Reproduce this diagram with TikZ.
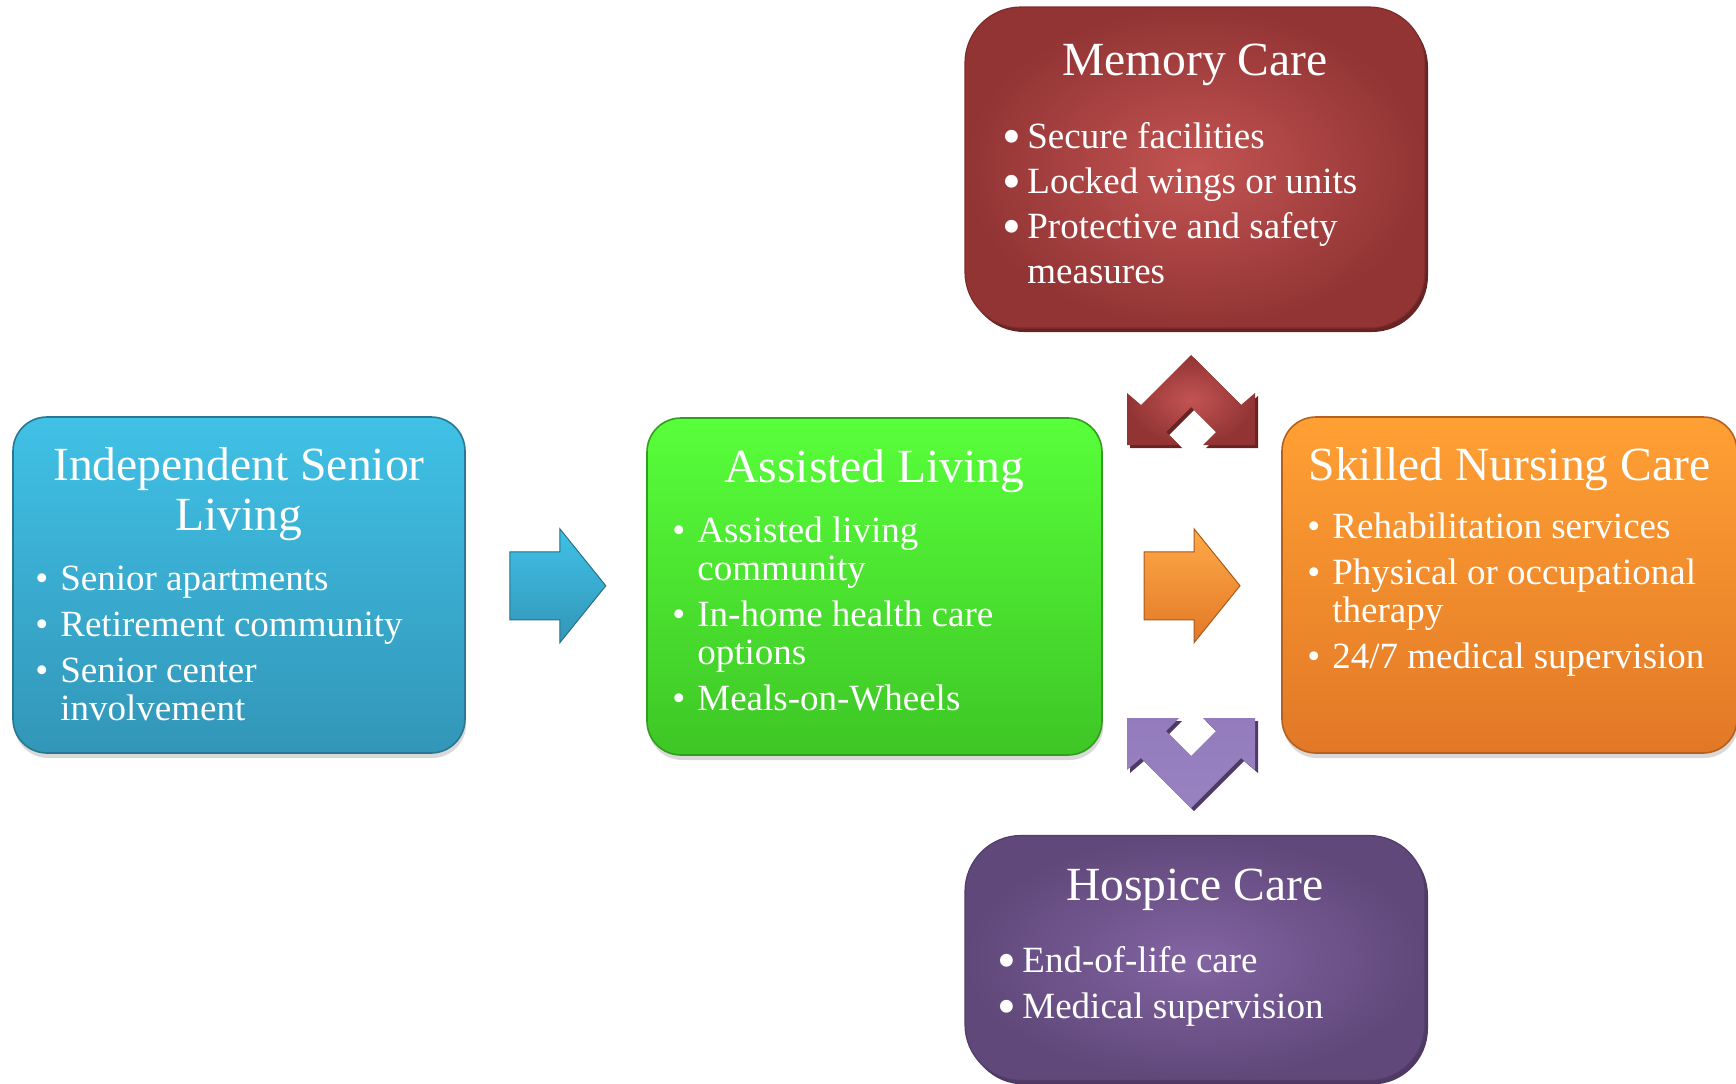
\documentclass[tikz,border=0pt]{standalone}
\usepackage{fontspec}
\setmainfont{Liberation Serif}
\usepackage{graphicx}
\usetikzlibrary{calc,shadows}

\definecolor{indtop}{RGB}{64,193,230}
\definecolor{indbot}{RGB}{50,150,184}
\definecolor{asstop}{RGB}{88,255,58}
\definecolor{assbot}{RGB}{62,198,38}
\definecolor{skltop}{RGB}{255,160,52}
\definecolor{sklbot}{RGB}{226,120,38}
\definecolor{memin}{RGB}{194,84,82}
\definecolor{memout}{RGB}{146,52,52}
\definecolor{memrim}{RGB}{105,35,35}
\definecolor{hosin}{RGB}{130,100,162}
\definecolor{hosout}{RGB}{96,72,122}
\definecolor{hosrim}{RGB}{78,58,100}
\definecolor{purtop}{RGB}{148,124,188}
\definecolor{purmid}{RGB}{108,78,150}
\definecolor{purbot}{RGB}{152,130,192}

\newcommand{\ttl}[1]{\parbox[t]{220pt}{\centering #1}}
\newcommand{\blist}[3]{\parbox[t]{220pt}{\fontsize{18.5}{#2}\selectfont\raggedright\setlength{\parskip}{#1}#3}}
\newcommand{\itm}{\par\noindent\llap{\textbullet\hspace{6pt}}}
\newcommand{\itmb}{\par\noindent\llap{\raisebox{-3pt}{\scalebox{1.45}{\textbullet}}\hspace{3pt}}}

\tikzset{
  box/.style={rounded corners=17pt, inner sep=0pt, line width=0.8pt,
    drop shadow={shadow xshift=0.6pt, shadow yshift=-2.5pt, opacity=0.3}},
  roundbox/.style={rounded corners=28pt, inner sep=0pt, line width=0.6pt,
    drop shadow={shadow xshift=1.5pt, shadow yshift=-2pt, opacity=1, fill=#1}},
  boxtitle/.style={text=white, inner sep=0pt, anchor=base, font=\fontsize{23.8}{25}\selectfont},
  bullets/.style={text=white, inner sep=0pt, anchor=base west},
  blockarrow/.style={line width=0.5pt},
}

\begin{document}
\begin{tikzpicture}[x=0.5pt, y=-0.5pt]
  \useasboundingbox (0,0) rectangle (1736,1083);
  %% the five boxes
  \node[box, draw=indbot!80!black, top color=indtop, bottom color=indbot,
    minimum width=226pt, minimum height=168pt] (indep) at (239,585) {};
  \node[box, draw=assbot!80!black, top color=asstop, bottom color=assbot,
    minimum width=227.5pt, minimum height=168.5pt] (assist) at (874.5,586.5) {};
  \node[box, draw=sklbot!80!black, top color=skltop, bottom color=sklbot,
    minimum width=227.5pt, minimum height=168pt] (skilled) at (1509.5,585) {};
  \node[roundbox=memrim, draw=memout!85!black, inner color=memin, outer color=memout,
    minimum width=230pt, minimum height=160.5pt] (memory) at (1195,167.5) {};
  \node[roundbox=hosrim, draw=hosout!85!black, inner color=hosin, outer color=hosout,
    minimum width=230pt, minimum height=122.5pt] (hospice) at (1195,958) {};
  %
  \node[boxtitle] (indeptitle) at (239,480) {\ttl{Independent Senior\\Living}};
  \node[bullets] (indeplist) at (60,590) {\blist{4pt}{19pt}{%
    \itm Senior apartments
    \itm Retirement community
    \itm Senior center\\involvement}};
  \node[boxtitle] (assisttitle) at (874.5,482) {\ttl{Assisted Living}};
  \node[bullets] (assistlist) at (697,542) {\blist{4pt}{19pt}{%
    \itm Assisted living\\community
    \itm In-home health care\\options
    \itm Meals-on-Wheels}};
  \node[boxtitle] (skilledtitle) at (1509.5,480) {\ttl{Skilled Nursing Care}};
  \node[bullets] (skilledlist) at (1332,538) {\blist{4pt}{19pt}{%
    \itm Rehabilitation services
    \itm Physical or occupational\\therapy
    \itm 24/7 medical supervision}};
  \node[boxtitle] (memorytitle) at (1195,75) {\ttl{Memory Care}};
  \node[bullets] (memorylist) at (1027,148) {\blist{0pt}{22.5pt}{%
    \itmb Secure facilities
    \itmb Locked wings or units
    \itmb Protective and safety\\measures}};
  \node[boxtitle] (hospicetitle) at (1195,900) {\ttl{Hospice Care}};
  \node[bullets] (hospicelist) at (1022,972) {\blist{0pt}{23pt}{%
    \itmb End-of-life care
    \itmb Medical supervision}};
  %% arrows between the boxes
  \coordinate (a1) at ($(indep.east)!0.51!(assist.west)$);
  \coordinate (a2) at ($(assist.east)!0.5!(skilled.west)$);
  \shade[blockarrow, draw=indbot!75!black, top color=indtop, bottom color=indbot, shift={(a1)}]
    (-48,-34) -- (2,-34) -- (2,-57) -- (48,0) -- (2,57) -- (2,34) -- (-48,34) -- cycle;
  \shade[blockarrow, draw=sklbot!75!black, top color=skltop!90!white, bottom color=sklbot, shift={(a2)}]
    (-48,-34) -- (2,-34) -- (2,-57) -- (48,0) -- (2,57) -- (2,34) -- (-48,34) -- cycle;
  % up to memory care
  \fill[memrim, shift={(1194,358)}]
    (0,0) -- (50,50) -- (64,38) -- (64,90) -- (12,90) -- (25,77) -- (0,52)
    -- (-25,77) -- (-12,90) -- (-64,90) -- (-64,38) -- (-50,50) -- cycle;
  \shade[inner color=memin, outer color=memout, shift={(1191,355)}]
    (0,0) -- (50,50) -- (64,38) -- (64,90) -- (12,90) -- (25,77) -- (0,52)
    -- (-25,77) -- (-12,90) -- (-64,90) -- (-64,38) -- (-50,50) -- cycle;
  % down to hospice care
  \fill[hosrim, shift={(1194,811)}, yscale=-1]
    (0,0) -- (50,50) -- (64,38) -- (64,90) -- (12,90) -- (25,77) -- (0,52)
    -- (-25,77) -- (-12,90) -- (-64,90) -- (-64,38) -- (-50,50) -- cycle;
  \shade[top color=purtop, middle color=purmid, bottom color=purbot, shift={(1191,808)}, yscale=-1]
    (0,0) -- (50,50) -- (64,38) -- (64,90) -- (12,90) -- (25,77) -- (0,52)
    -- (-25,77) -- (-12,90) -- (-64,90) -- (-64,38) -- (-50,50) -- cycle;
\end{tikzpicture}
\end{document}
